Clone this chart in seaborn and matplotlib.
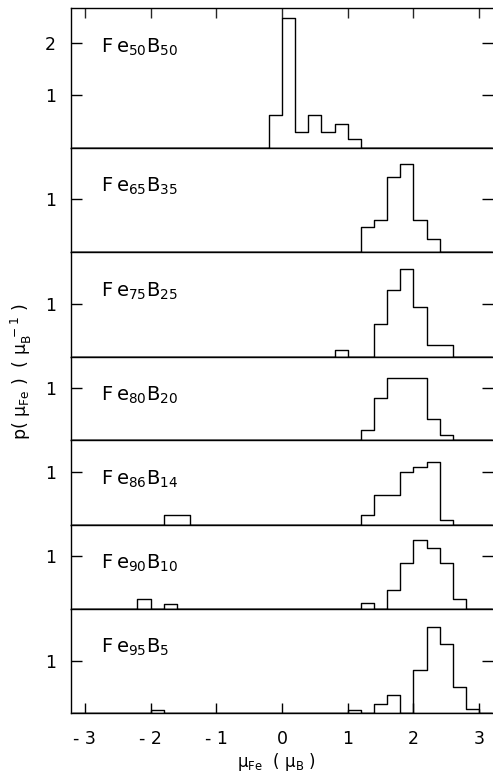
import numpy as np
import pandas as pd
import matplotlib
matplotlib.use("Agg")
import matplotlib.pyplot as plt
import seaborn as sns

sns.set_theme(style="white")
plt.rcParams['font.family'] = ['DejaVu Sans']
plt.rcParams['mathtext.fontset'] = 'dejavusans'

# ---- data ----
fe_content = [50, 65, 75, 80, 86, 90, 95]
b_content = [50, 35, 25, 20, 14, 10, 5]

centers_50 = [-0.1, 0.1, 0.3, 0.5, 0.7, 0.9, 1.1]
heights_50 = [0.62, 2.47, 0.30, 0.62, 0.30, 0.46, 0.16]

centers_65 = [1.3, 1.5, 1.7, 1.9, 2.1, 2.3]
heights_65 = [0.48, 0.60, 1.43, 1.67, 0.60, 0.25]

centers_75 = [0.9, 1.5, 1.7, 1.9, 2.1, 2.3, 2.5]
heights_75 = [0.13, 0.63, 1.27, 1.68, 0.95, 0.22, 0.22]

centers_80 = [1.3, 1.5, 1.7, 1.9, 2.1, 2.3, 2.5]
heights_80 = [0.19, 0.80, 1.18, 1.18, 1.18, 0.40, 0.10]

centers_86 = [-1.7, -1.5, 1.3, 1.5, 1.7, 1.9, 2.1, 2.3, 2.5]
heights_86 = [0.18, 0.18, 0.19, 0.56, 0.56, 1.00, 1.10, 1.19, 0.10]

centers_90 = [-2.1, -1.7, 1.3, 1.7, 1.9, 2.1, 2.3, 2.5, 2.7]
heights_90 = [0.185, 0.096, 0.10, 0.35, 0.87, 1.31, 1.15, 0.87, 0.185]

centers_95 = [-1.9, 1.1, 1.5, 1.7, 2.1, 2.3, 2.5, 2.7, 2.9]
heights_95 = [0.065, 0.065, 0.17, 0.34, 0.82, 1.65, 1.33, 0.51, 0.08]

panel_centers = [centers_50, centers_65, centers_75, centers_80, centers_86, centers_90, centers_95]
panel_heights = [heights_50, heights_65, heights_75, heights_80, heights_86, heights_90, heights_95]
panel_ymax = [2.66, 1.99, 2.0, 1.59, 1.62, 1.60, 2.0]
panel_yticks = [[1, 2], [1], [1], [1], [1], [1], [1]]

x_ticks = [-3, -2, -1, 0, 1, 2, 3]
x_ticklabels = ["- 3", "- 2", "- 1", "0", "1", "2", "3"]
bin_width = 0.2
x_range = (-3.2, 3.2)

# ---- figure ----
W, H = 493, 778
fig = plt.figure(figsize=(W / 100, H / 100), dpi=100)
gs = fig.add_gridspec(len(fe_content), 1, height_ratios=panel_ymax, hspace=0,
                      left=71 / W, right=1.0, top=1 - 8.3 / H, bottom=1 - 713.3 / H)

for i, (cx, hy) in enumerate(zip(panel_centers, panel_heights)):
    ax = fig.add_subplot(gs[i])
    df = pd.DataFrame({"mu": cx, "p": hy})
    sns.histplot(data=df, x="mu", weights="p", binwidth=bin_width, binrange=x_range,
                 element="step", fill=True, color="black", facecolor="none",
                 edgecolor="black", linewidth=1.0, ax=ax)
    ax.set_xlim(-3.21, 3.21)
    ax.set_ylim(0, panel_ymax[i])
    ax.set_xlabel("")
    ax.set_ylabel("")
    ax.set_yticks(panel_yticks[i])
    ax.set_yticklabels([str(t) for t in panel_yticks[i]], fontsize=12.5)
    ax.tick_params(axis="y", direction="in", length=8, width=1, left=True, right=True,
                   labelleft=True, labelright=False, pad=11, colors="black")
    ax.set_xticks(x_ticks)
    if i == 0:
        ax.tick_params(axis="x", direction="in", length=7, width=1, top=True, bottom=False,
                       labelbottom=False, labeltop=False)
    elif i == len(fe_content) - 1:
        ax.tick_params(axis="x", direction="in", length=7, width=1, top=False, bottom=True,
                       labelbottom=True, pad=12, colors="black")
        ax.set_xticklabels(x_ticklabels, fontsize=12.5)
    else:
        ax.tick_params(axis="x", top=False, bottom=False, labelbottom=False)
    for side in ["left", "top", "bottom"]:
        ax.spines[side].set_visible(True)
        ax.spines[side].set_color("black")
        ax.spines[side].set_linewidth(1.0)
    ax.spines["right"].set_visible(False)
    ax.annotate(f"F\u2009e$_{{{fe_content[i]}}}$B$_{{{b_content[i]}}}$",
                xy=(0.07, 1.0), xycoords="axes fraction",
                xytext=(0, -39 * 0.72), textcoords="offset points",
                ha="left", va="center", fontsize=14, color="black")

fig.text(277 / W, 1 - 762 / H, "μ$_{\\rm Fe}$  ( μ$_{\\rm B}$ )", ha="center", va="center",
         fontsize=12, color="black")
fig.text(21 / W, 1 - 372 / H, "p( μ$_{\\rm Fe}$ )  ( μ$_{\\rm B}^{\\ -1}$ )", rotation=90,
         ha="center", va="center", fontsize=12.5, color="black")

fig.savefig("out.png", dpi=100, facecolor="white")
